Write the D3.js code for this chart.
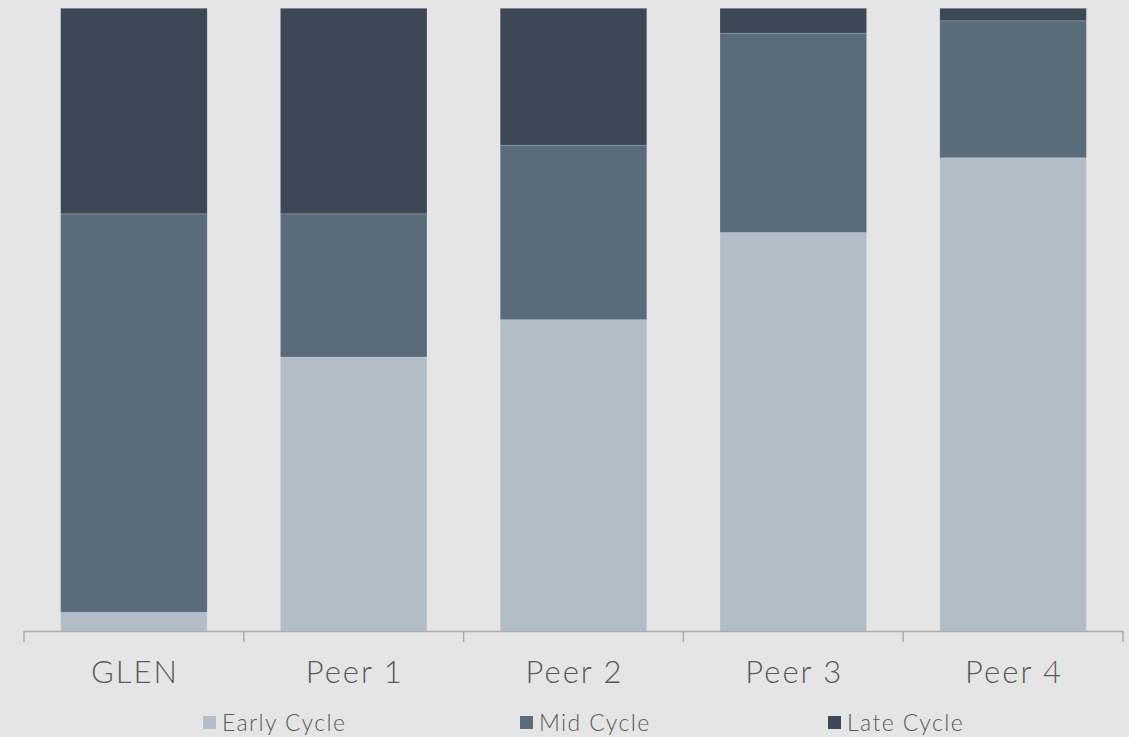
<!DOCTYPE html>
<html>
<head>
<meta charset="utf-8">
<script src="https://cdn.jsdelivr.net/npm/d3@7"></script>
<style>
  html, body { margin: 0; padding: 0; background: #e5e5e5; }
  svg { display: block; }
  text { font-family: "Lato", "Open Sans", sans-serif; font-weight: 300; fill: #595959; }
</style>
</head>
<body>
<svg id="chart" width="1129" height="737"></svg>
<script>
// Share of portfolio by cycle stage (percent of each bar)
const categories = ["GLEN", "Peer 1", "Peer 2", "Peer 3", "Peer 4"];
const seriesNames = ["Early Cycle", "Mid Cycle", "Late Cycle"];
const earlyCycle = [3, 44, 50, 64, 76];
const midCycle   = [64, 23, 28, 32, 22];
const lateCycle  = [33, 33, 22, 4, 2];
const seriesColors = ["#b3bdc7", "#5a6b7c", "#3c4855"];

const rows = categories.map((c, i) => ({
  category: c,
  "Early Cycle": earlyCycle[i],
  "Mid Cycle": midCycle[i],
  "Late Cycle": lateCycle[i]
}));

const svg = d3.select("#chart");
const plot = { left: 24, right: 1123, top: 8.3, bottom: 631 };

const x = d3.scaleBand()
  .domain(categories)
  .range([plot.left, plot.right])
  .paddingInner(1 / 3)
  .paddingOuter(1 / 6);

const y = d3.scaleLinear()
  .domain([0, 100])
  .range([plot.bottom, plot.top]);

const color = d3.scaleOrdinal().domain(seriesNames).range(seriesColors);

const stacked = d3.stack().keys(seriesNames)(rows);

// Stacked bars
svg.append("g")
  .selectAll("g")
  .data(stacked)
  .join("g")
  .attr("fill", d => color(d.key))
  .selectAll("rect")
  .data(d => d)
  .join("rect")
  .attr("x", d => x(d.data.category))
  .attr("width", x.bandwidth())
  .attr("y", d => y(d[1]))
  .attr("height", d => y(d[0]) - y(d[1]))
  .attr("stroke", "#ffffff")
  .attr("stroke-opacity", 0.15)
  .attr("stroke-width", 1);

// Category axis: baseline with ticks at band boundaries
const axisG = svg.append("g");
const step = x.step();
const boundaries = d3.range(categories.length + 1).map(i => plot.left + i * step);

axisG.append("line")
  .attr("x1", plot.left).attr("x2", plot.right)
  .attr("y1", plot.bottom + 0.5).attr("y2", plot.bottom + 0.5)
  .attr("stroke", "#ababab").attr("stroke-width", 1.5);

axisG.selectAll("line.tick")
  .data(boundaries)
  .join("line")
  .attr("class", "tick")
  .attr("x1", d => d).attr("x2", d => d)
  .attr("y1", plot.bottom).attr("y2", plot.bottom + 11)
  .attr("stroke", "#ababab").attr("stroke-width", 1.5);

const labelSpacing = 2;
axisG.selectAll("text")
  .data(categories)
  .join("text")
  .attr("x", d => x(d) + x.bandwidth() / 2 + labelSpacing / 2)
  .attr("y", 683)
  .attr("text-anchor", "middle")
  .style("font-size", "31px")
  .style("letter-spacing", labelSpacing + "px")
  .text(d => d);

// Legend
const legendX = [203, 520, 828];
const legend = svg.append("g")
  .selectAll("g")
  .data(seriesNames)
  .join("g")
  .attr("transform", (d, i) => `translate(${legendX[i]},0)`);

legend.append("rect")
  .attr("x", 0).attr("y", 716)
  .attr("width", 13).attr("height", 13)
  .attr("fill", d => color(d));

legend.append("text")
  .attr("x", 19).attr("y", 731)
  .style("font-size", "23px")
  .style("letter-spacing", "1.4px")
  .text(d => d);
</script>
</body>
</html>
